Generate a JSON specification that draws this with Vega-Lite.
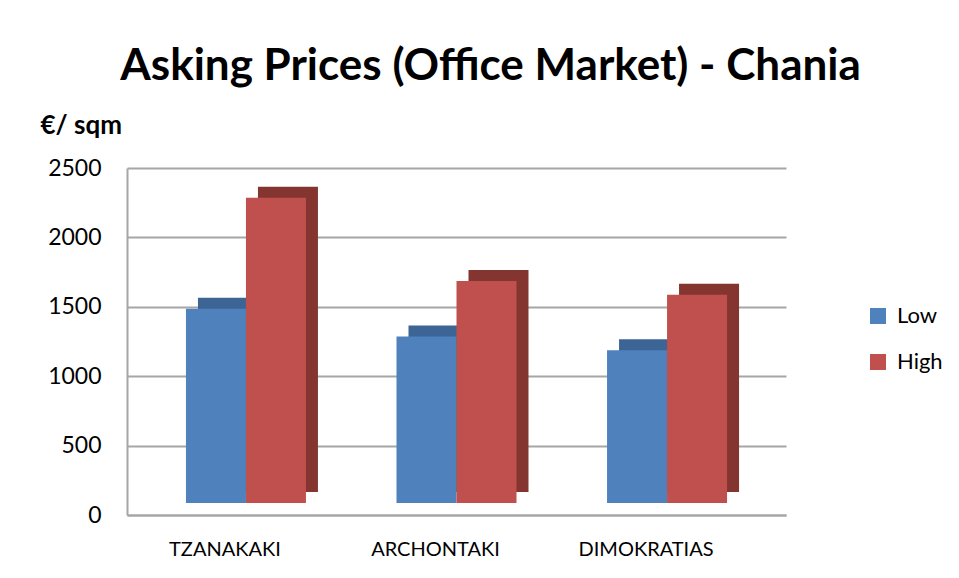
{
  "$schema": "https://vega.github.io/schema/vega-lite/v6.json",
  "width": 659,
  "height": 347,
  "autosize": {"type": "none"},
  "padding": {"left": 127, "top": 168, "right": 173, "bottom": 63},
  "background": "white",
  "config": {
    "font": "Lato",
    "view": {"stroke": null}
  },
  "title": {
    "text": "Asking Prices (Office Market) - Chania",
    "fontSize": 44,
    "fontWeight": "bold",
    "font": "Lato",
    "color": "#000000",
    "anchor": "middle",
    "frame": "group",
    "dx": 34,
    "offset": 23
  },
  "data": {
    "values": [
      {"street": "TZANAKAKI", "series": "Low", "price": 1400},
      {"street": "TZANAKAKI", "series": "High", "price": 2200},
      {"street": "ARCHONTAKI", "series": "Low", "price": 1200},
      {"street": "ARCHONTAKI", "series": "High", "price": 1600},
      {"street": "DIMOKRATIAS", "series": "Low", "price": 1100},
      {"street": "DIMOKRATIAS", "series": "High", "price": 1500}
    ]
  },
  "encoding": {
    "x": {
      "field": "street",
      "type": "nominal",
      "sort": ["TZANAKAKI", "ARCHONTAKI", "DIMOKRATIAS"],
      "scale": {"paddingInner": 0.43, "paddingOuter": 0.28},
      "axis": {
        "title": null,
        "labelAngle": 0,
        "labelFontSize": 20,
        "labelColor": "#000000",
        "labelPadding": 24,
        "labelOffset": -21,
        "ticks": false,
        "domain": true,
        "domainColor": "#a6a6a6",
        "domainWidth": 2,
        "grid": false
      }
    },
    "y": {
      "field": "price",
      "type": "quantitative",
      "scale": {"domain": [0, 2500]},
      "axis": {
        "values": [0, 500, 1000, 1500, 2000, 2500],
        "format": "d",
        "title": "€/ sqm",
        "titleAngle": 0,
        "titleAlign": "left",
        "titleBaseline": "alphabetic",
        "titleX": -87,
        "titleY": -35,
        "titleFontSize": 26,
        "titleFontWeight": "bold",
        "titleColor": "#000000",
        "labelFontSize": 23,
        "labelColor": "#000000",
        "labelPadding": 26,
        "ticks": false,
        "domain": true,
        "domainColor": "#a6a6a6",
        "domainWidth": 2,
        "grid": true,
        "gridColor": "#a6a6a6",
        "gridWidth": 2
      }
    }
  },
  "layer": [
    {
      "transform": [{"filter": "datum.series === 'Low'"}],
      "mark": {"type": "bar", "width": 60, "xOffset": -18, "yOffset": -23, "y2Offset": -23, "color": "#3c6494"}
    },
    {
      "transform": [{"filter": "datum.series === 'Low'"}],
      "mark": {"type": "bar", "width": 60, "xOffset": -30, "yOffset": -12, "y2Offset": -12},
      "encoding": {
        "color": {
          "field": "series",
          "type": "nominal",
          "scale": {"domain": ["Low", "High"], "range": ["#4f81bd", "#c0504d"]},
          "legend": {
            "title": null,
            "orient": "none",
            "legendX": 740,
            "legendY": 137,
            "symbolType": "square",
            "symbolSize": 256,
            "symbolStrokeWidth": 0,
            "labelFontSize": 22,
            "labelColor": "#000000",
            "rowPadding": 24,
            "labelOffset": 8
          }
        }
      }
    },
    {
      "transform": [{"filter": "datum.series === 'High'"}],
      "mark": {"type": "bar", "width": 60, "xOffset": 42, "yOffset": -23, "y2Offset": -23, "color": "#84352f"}
    },
    {
      "transform": [{"filter": "datum.series === 'High'"}],
      "mark": {"type": "bar", "width": 60, "xOffset": 30, "yOffset": -12, "y2Offset": -12},
      "encoding": {
        "color": {
          "field": "series",
          "type": "nominal",
          "scale": {"domain": ["Low", "High"], "range": ["#4f81bd", "#c0504d"]}
        }
      }
    }
  ]
}
